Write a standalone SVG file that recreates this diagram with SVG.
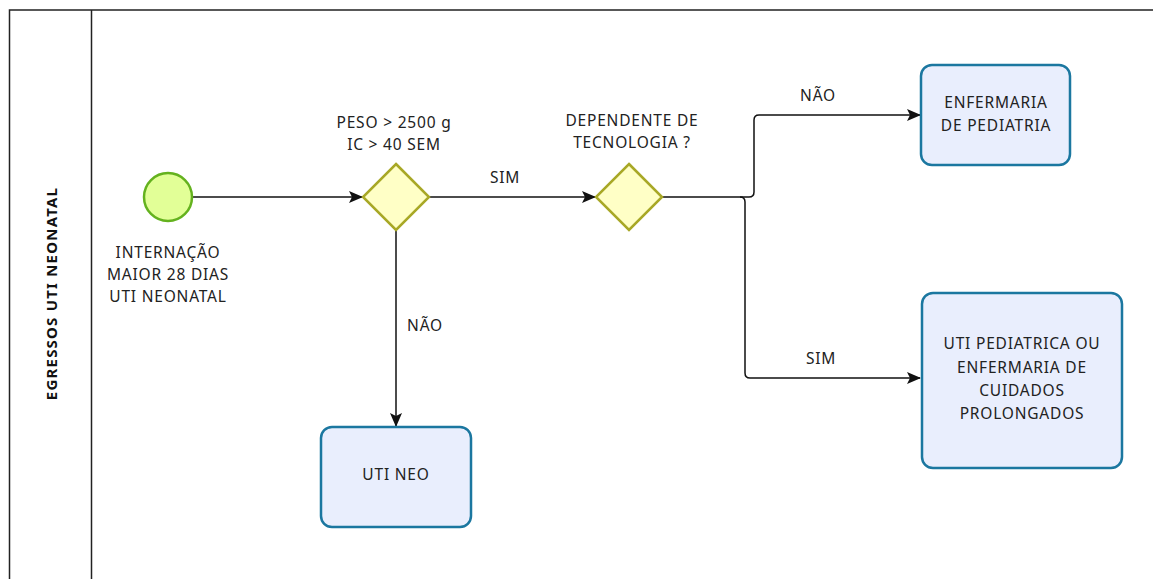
<svg xmlns="http://www.w3.org/2000/svg" width="1153" height="579" viewBox="0 0 1153 579">
<style>
text{font-family:"Noto Sans","Open Sans","Liberation Sans",sans-serif;font-size:15.5px;letter-spacing:0.8px;fill:#222;text-anchor:middle}
.lane{fill:none;stroke:#222;stroke-width:1.5}
.task{fill:#e9eefd;stroke:#1b77a0;stroke-width:2.5}
.gw{fill:#ffffc6;stroke:#a8a826;stroke-width:2.5}
.ev{fill:#e2ff97;stroke:#64b21e;stroke-width:2.5}
.flow{fill:none;stroke:#111;stroke-width:1.5}
</style>
<defs>
<marker id="arr" viewBox="0 0 14 12" refX="13" refY="6" markerWidth="14" markerHeight="12" markerUnits="userSpaceOnUse" orient="auto">
<path d="M0,0 L14,6 L0,12 L3,6 Z" fill="#111"/>
</marker>
</defs>
<rect width="1153" height="579" fill="#fff"/>
<g id="lane">
<path class="lane" d="M1153,10 H9.5 V579 M91.5,10 V579"/>
<text transform="translate(57,293.5) rotate(-90)" style="font-weight:bold;font-size:15px;letter-spacing:1.2px;fill:#111">EGRESSOS UTI NEONATAL</text>
</g>
<g id="connectors">
<path class="flow" d="M192,197 H362" marker-end="url(#arr)"/>
<path class="flow" d="M429,197 H595" marker-end="url(#arr)"/>
<text x="505" y="183">SIM</text>
<path class="flow" d="M396,230 V426" marker-end="url(#arr)"/>
<text x="425" y="331">NÃO</text>
<path class="flow" d="M662,197 H749 Q754,197 754,192 V120 Q754,115 759,115 H920" marker-end="url(#arr)"/>
<text x="818" y="101">NÃO</text>
<path class="flow" d="M740,197 Q745,197 745,202 V373 Q745,378 750,378 H920" marker-end="url(#arr)"/>
<text x="821" y="364">SIM</text>
</g>
<g id="start">
<circle class="ev" cx="168" cy="197" r="24"/>
<text x="168" y="258">INTERNAÇÃO</text>
<text x="168" y="280">MAIOR 28 DIAS</text>
<text x="168" y="302">UTI NEONATAL</text>
</g>
<g id="gw1">
<path class="gw" d="M396,164 L429,197 L396,230 L363,197 Z"/>
<text x="394" y="128">PESO &gt; 2500 g</text>
<text x="394" y="150">IC &gt; 40 SEM</text>
</g>
<g id="gw2">
<path class="gw" d="M629,164 L662,197 L629,230 L596,197 Z"/>
<text x="632" y="126">DEPENDENTE DE</text>
<text x="632" y="148">TECNOLOGIA ?</text>
</g>
<g id="uti-neo">
<rect class="task" x="321" y="427" width="150" height="100" rx="11"/>
<text x="396" y="480">UTI NEO</text>
</g>
<g id="enfermaria">
<rect class="task" x="921" y="65" width="149" height="100" rx="11"/>
<text x="996" y="108">ENFERMARIA</text>
<text x="996" y="131">DE PEDIATRIA</text>
</g>
<g id="uti-ped">
<rect class="task" x="922" y="293" width="200" height="175" rx="11"/>
<text x="1022" y="349">UTI PEDIATRICA OU</text>
<text x="1022" y="373">ENFERMARIA DE</text>
<text x="1022" y="396">CUIDADOS</text>
<text x="1022" y="419">PROLONGADOS</text>
</g>
</svg>
